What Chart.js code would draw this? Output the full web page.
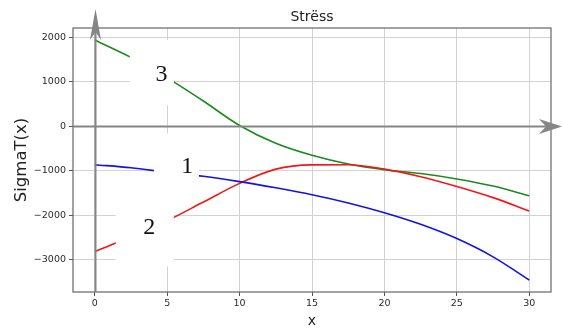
<!DOCTYPE html>
<html>
<head>
<meta charset="utf-8">
<script src="https://cdn.jsdelivr.net/npm/chart.js@4/dist/chart.umd.min.js"></script>
<style>
  html, body { margin: 0; padding: 0; background: #ffffff; }
  #wrap { width: 562px; height: 330px; }
</style>
</head>
<body>
<div id="wrap"><canvas id="c" width="562" height="330"></canvas></div>
<script>
// ---- data ----
const xValues = [0, 2.5, 5, 7.5, 10, 12.5, 15, 17.5, 20, 22.5, 25, 27.5, 30];
const series1 = [-860, -930, -1030, -1120, -1240, -1380, -1535, -1720, -1940, -2200, -2520, -2930, -3450]; // blue
const series2 = [-2810, -2480, -2120, -1700, -1280, -960, -865, -862, -960, -1130, -1350, -1600, -1900]; // red
const series3 = [1940, 1550, 1090, 570, 20, -380, -650, -845, -975, -1060, -1180, -1340, -1560]; // green
const xTicks = [0, 5, 10, 15, 20, 25, 30];
const yTicks = [-3000, -2000, -1000, 0, 1000, 2000];
const chartTitle = 'Strëss';
const xTitle = 'x';
const yTitle = 'SigmaT(x)';
const curveLabels = ['1', '2', '3'];
const curveLabelX = [6.38, 3.76, 4.61];
const curveLabelY = [-903, -2273, 1150];
// white erased patches (data coords): [x0, x1, yTop, yBottom]
const patches = [[2.42, 5.46, 1940, 474], [4.08, 7.19, -158, -1330], [1.45, 5.46, -1330, -3140]];

const toPts = (ys) => xValues.map((x, i) => ({ x: x, y: ys[i] }));
const fmt = (v) => (v < 0 ? '\u2212' + Math.abs(v) : String(v));

const overlay = {
  id: 'overlay',
  afterDatasetsDraw(chart) {
    const { ctx, chartArea: a, scales: { x, y } } = chart;
    ctx.save();
    // erased patches
    ctx.fillStyle = '#ffffff';
    patches.forEach(p => {
      const x0 = x.getPixelForValue(p[0]), x1 = x.getPixelForValue(p[1]);
      const y0 = y.getPixelForValue(p[2]), y1 = y.getPixelForValue(p[3]);
      ctx.fillRect(x0, y0, x1 - x0, y1 - y0);
    });
    // plot frame
    ctx.strokeStyle = '#666666';
    ctx.lineWidth = 1.2;
    ctx.strokeRect(a.left, a.top, a.right - a.left, a.bottom - a.top);
    // axis arrows through origin
    const ox = Math.round(x.getPixelForValue(0)) + 0.5;
    const oy = Math.round(y.getPixelForValue(0)) + 0.5;
    ctx.strokeStyle = '#858585';
    ctx.fillStyle = '#858585';
    ctx.lineWidth = 2;
    ctx.beginPath();
    ctx.moveTo(ox, a.bottom);
    ctx.lineTo(ox, 30);
    ctx.moveTo(a.left, oy);
    ctx.lineTo(546, oy);
    ctx.stroke();
    // vertical arrowhead
    ctx.beginPath();
    ctx.moveTo(ox, 9);
    ctx.lineTo(ox + 5.5, 40);
    ctx.lineTo(ox, 32);
    ctx.lineTo(ox - 5.5, 40);
    ctx.closePath();
    ctx.fill();
    // horizontal arrowhead
    ctx.beginPath();
    ctx.moveTo(562, oy);
    ctx.lineTo(539, oy - 7.5);
    ctx.lineTo(546, oy);
    ctx.lineTo(539, oy + 7.5);
    ctx.closePath();
    ctx.fill();
    // curve labels
    ctx.fillStyle = '#111111';
    ctx.font = '24px "Liberation Serif", "Times New Roman", serif';
    ctx.textAlign = 'center';
    ctx.textBaseline = 'middle';
    curveLabels.forEach((t, i) => {
      ctx.fillText(t, x.getPixelForValue(curveLabelX[i]), y.getPixelForValue(curveLabelY[i]));
    });
    // title
    ctx.fillStyle = '#222222';
    ctx.font = '14px "DejaVu Sans"';
    ctx.textBaseline = 'alphabetic';
    ctx.fillText(chartTitle, (a.left + a.right) / 2, 21);
    ctx.restore();
  }
};

const tickFont = { family: 'DejaVu Sans', size: 9.5 };

new Chart(document.getElementById('c'), {
  type: 'line',
  data: {
    datasets: [
      { data: toPts(series1), borderColor: '#1010f0', borderWidth: 1.6 },
      { data: toPts(series2), borderColor: '#f01818', borderWidth: 1.6 },
      { data: toPts(series3), borderColor: '#1c8a1c', borderWidth: 1.6 }
    ]
  },
  options: {
    responsive: false,
    devicePixelRatio: 1,
    animation: false,
    layout: { padding: { left: 0, top: 28, right: 11, bottom: 0 } },
    elements: {
      point: { radius: 0 },
      line: { cubicInterpolationMode: 'monotone', fill: false }
    },
    plugins: { legend: { display: false }, tooltip: { enabled: false } },
    scales: {
      x: {
        type: 'linear',
        min: -1.5,
        max: 31.5,
        afterBuildTicks: (s) => { s.ticks = xTicks.map(v => ({ value: v })); },
        afterFit: (s) => { s.height = 38; },
        ticks: { font: tickFont, color: '#2a2a2a', padding: 2, callback: (v) => fmt(v), maxRotation: 0 },
        grid: { color: '#d2d2d2', lineWidth: 1, tickColor: '#555555', tickLength: 4 },
        border: { display: false },
        title: { display: true, text: xTitle, font: { family: 'DejaVu Sans', size: 14 }, color: '#222222', padding: { top: 0, bottom: 0 } }
      },
      y: {
        type: 'linear',
        min: -3720,
        max: 2210,
        afterBuildTicks: (s) => { s.ticks = yTicks.map(v => ({ value: v })); },
        afterFit: (s) => { s.width = 73; },
        ticks: { font: tickFont, color: '#2a2a2a', padding: 3, callback: (v) => fmt(v) },
        grid: { color: '#d2d2d2', lineWidth: 1, tickColor: '#555555', tickLength: 4 },
        border: { display: false },
        title: { display: true, text: yTitle, font: { family: 'DejaVu Sans', size: 16.5 }, color: '#222222', padding: { top: 12, bottom: 0 } }
      }
    }
  },
  plugins: [overlay]
});
</script>
</body>
</html>
